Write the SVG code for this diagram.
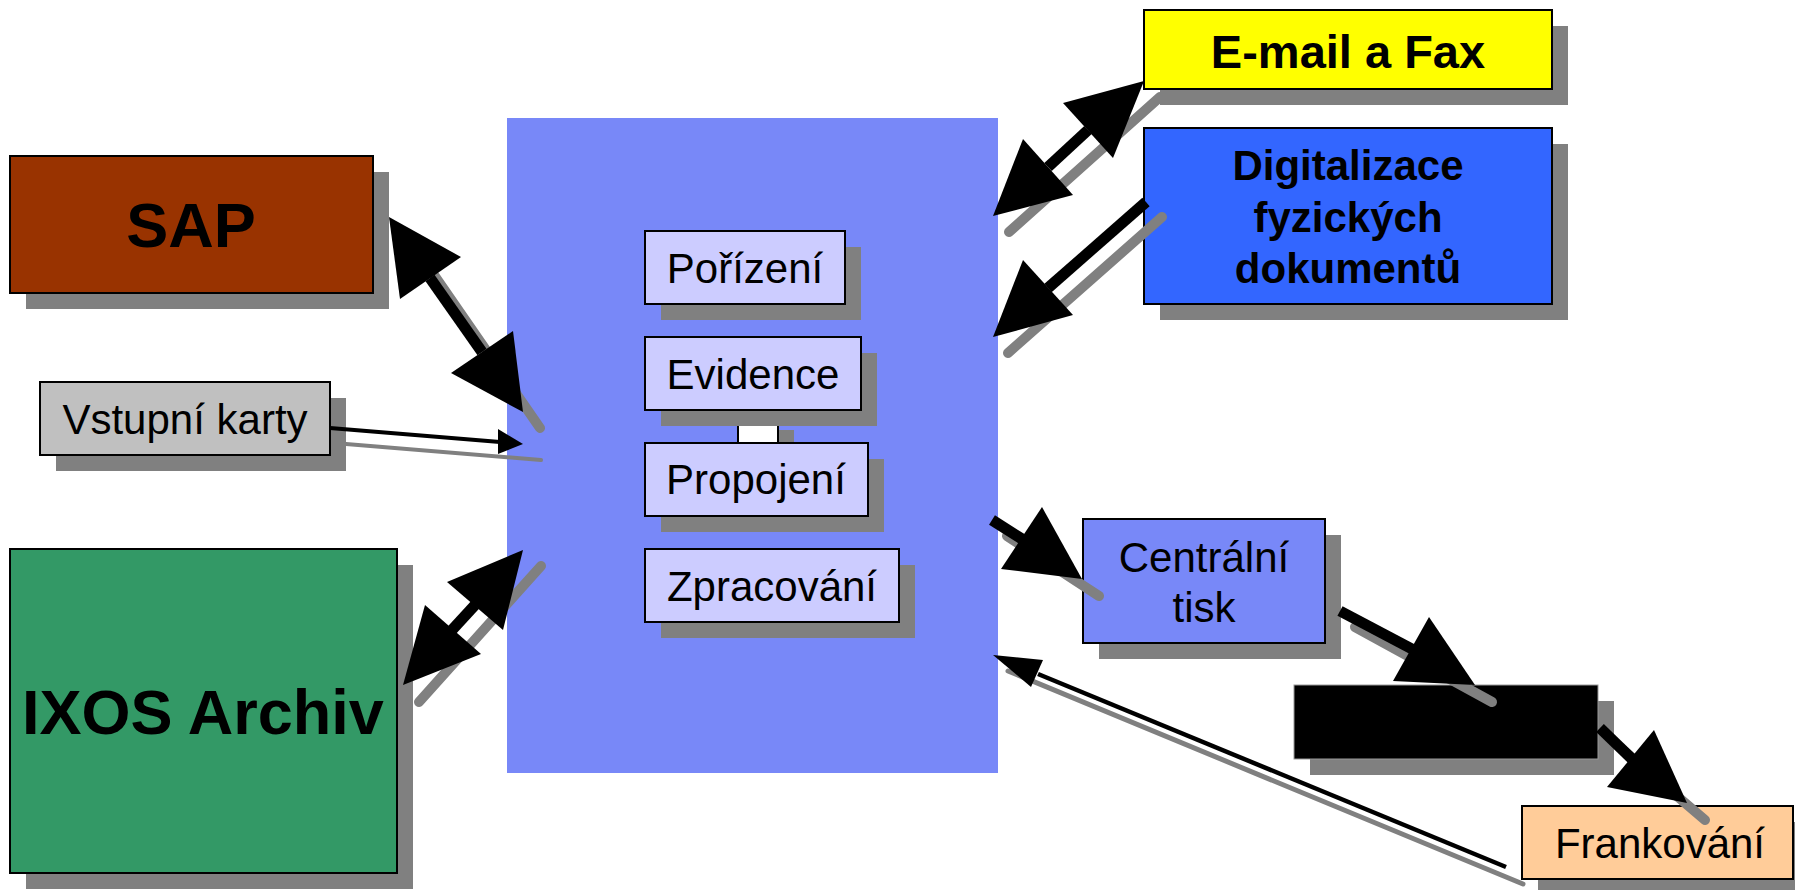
<svg xmlns="http://www.w3.org/2000/svg" width="1795" height="890" viewBox="0 0 1795 890">
<style>
.sh{fill:#808080}
.bx{stroke:#000;stroke-width:2}
.t{font-family:'Liberation Sans',Arial,sans-serif;font-size:42px;text-anchor:middle;fill:#000}
.b{font-weight:bold}
.shl{stroke:#808080;stroke-linecap:round;fill:none}
.ln{stroke:#000;fill:none}
.hd{fill:#000}
</style>
<rect width="1795" height="890" fill="#fff"/>
<g id="main"><rect x="507" y="118" width="491" height="655" fill="#7888F8"/></g>
<g id="link">
<rect class="sh" x="754" y="430" width="40" height="19"/>
<rect x="738" y="414" width="40" height="35" fill="#fff" stroke="#000" stroke-width="2"/>
</g>
<g id="porizeni"><rect class="sh" x="661" y="247" width="200" height="73"/><rect class="bx" x="645" y="231" width="200" height="73" fill="#CCCCFF"/><text class="t" x="745" y="283">Pořízení</text></g>
<g id="evidence"><rect class="sh" x="661" y="353" width="216" height="73"/><rect class="bx" x="645" y="337" width="216" height="73" fill="#CCCCFF"/><text class="t" x="753" y="389">Evidence</text></g>
<g id="propojeni"><rect class="sh" x="661" y="459" width="223" height="73"/><rect class="bx" x="645" y="443" width="223" height="73" fill="#CCCCFF"/><text class="t" x="756" y="494">Propojení</text></g>
<g id="zpracovani"><rect class="sh" x="661" y="565" width="254" height="73"/><rect class="bx" x="645" y="549" width="254" height="73" fill="#CCCCFF"/><text class="t" x="772" y="601">Zpracování</text></g>
<g id="sap"><rect class="sh" x="26" y="172" width="363" height="137"/><rect class="bx" x="10" y="156" width="363" height="137" fill="#993300"/><text class="t b" x="191" y="247" style="font-size:63px">SAP</text></g>
<g id="vstupni"><rect class="sh" x="56" y="398" width="290" height="73"/><rect class="bx" x="40" y="382" width="290" height="73" fill="#C0C0C0"/><text class="t" x="185" y="434">Vstupní karty</text></g>
<g id="ixos"><rect class="sh" x="26" y="565" width="387" height="324"/><rect class="bx" x="10" y="549" width="387" height="324" fill="#339966"/><text class="t b" x="203" y="734" style="font-size:63px">IXOS Archiv</text></g>
<g id="email"><rect class="sh" x="1160" y="26" width="408" height="79"/><rect class="bx" x="1144" y="10" width="408" height="79" fill="#FFFF00"/><text class="t b" x="1348" y="68" style="font-size:47px">E-mail a Fax</text></g>
<g id="digitalizace"><rect class="sh" x="1160" y="144" width="408" height="176"/><rect class="bx" x="1144" y="128" width="408" height="176" fill="#3366FF"/><text class="t b" x="1348" y="180">Digitalizace</text><text class="t b" x="1348" y="232">fyzických</text><text class="t b" x="1348" y="283">dokumentů</text></g>
<g id="centralni"><rect class="sh" x="1099" y="535" width="242" height="124"/><rect class="bx" x="1083" y="519" width="242" height="124" fill="#7888F8"/><text class="t" x="1204" y="572">Centrální</text><text class="t" x="1204" y="622">tisk</text></g>
<g id="blackbox"><rect class="sh" x="1310" y="701" width="304" height="74"/><rect x="1294" y="685" width="304" height="74" fill="#000" stroke="#999" stroke-width="1"/></g>
<g id="frankovani"><rect class="sh" x="1538" y="822" width="271" height="73"/><rect class="bx" x="1522" y="806" width="271" height="73" fill="#FFCC99"/><text class="t" x="1660" y="858">Frankování</text></g>
<g id="connectors">
<g stroke-width="10">
<line class="shl" x1="405" y1="233" x2="540" y2="428"/>
<line class="shl" x1="1009" y1="232" x2="1160" y2="97"/>
<line class="shl" x1="1162" y1="217" x2="1008" y2="353"/>
<line class="shl" x1="419" y1="702" x2="541" y2="566"/>
<line class="shl" x1="1007" y1="536" x2="1099" y2="596"/>
<line class="shl" x1="1355" y1="627" x2="1492" y2="702"/>
<line class="shl" x1="1616" y1="744" x2="1705" y2="820"/>
</g>
<line class="shl" stroke-width="4" x1="346" y1="444" x2="541" y2="460"/>
<line class="shl" stroke-width="5" x1="1523" y1="884" x2="1008" y2="671"/>
<g stroke-width="11">
<line class="ln" x1="430" y1="278" x2="482" y2="352"/>
<line class="ln" x1="1088" y1="130" x2="1048" y2="167"/>
<line class="ln" x1="1146" y1="202" x2="1048" y2="288"/>
<line class="ln" x1="475" y1="605" x2="452" y2="630"/>
<line class="ln" x1="992" y1="520" x2="1022" y2="539"/>
<line class="ln" x1="1340" y1="611" x2="1412" y2="649"/>
<line class="ln" x1="1600" y1="728" x2="1632" y2="759"/>
</g>
<line class="ln" stroke-width="4" x1="330" y1="428" x2="500" y2="442"/>
<line class="ln" stroke-width="4.5" x1="1506" y1="867" x2="1038" y2="674"/>
<polygon class="hd" points="389,217 461,257 400,299"/>
<polygon class="hd" points="523,412 513,331 451,373"/>
<polygon class="hd" points="1144,81 1063,103 1113,158"/>
<polygon class="hd" points="993,216 1023,139 1073,195"/>
<polygon class="hd" points="993,337 1023,260 1073,315"/>
<polygon class="hd" points="523,550 447,582 503,630"/>
<polygon class="hd" points="403,685 425,605 481,654"/>
<polygon class="hd" points="1082,579 1042,507 1001,569"/>
<polygon class="hd" points="1475,685 1429,617 1393,681"/>
<polygon class="hd" points="1687,803 1654,730 1607,787"/>
<polygon class="hd" points="523,444 498,429 498,454"/>
<polygon class="hd" points="993,655 1043,660 1031,687"/>
</g>
</svg>
